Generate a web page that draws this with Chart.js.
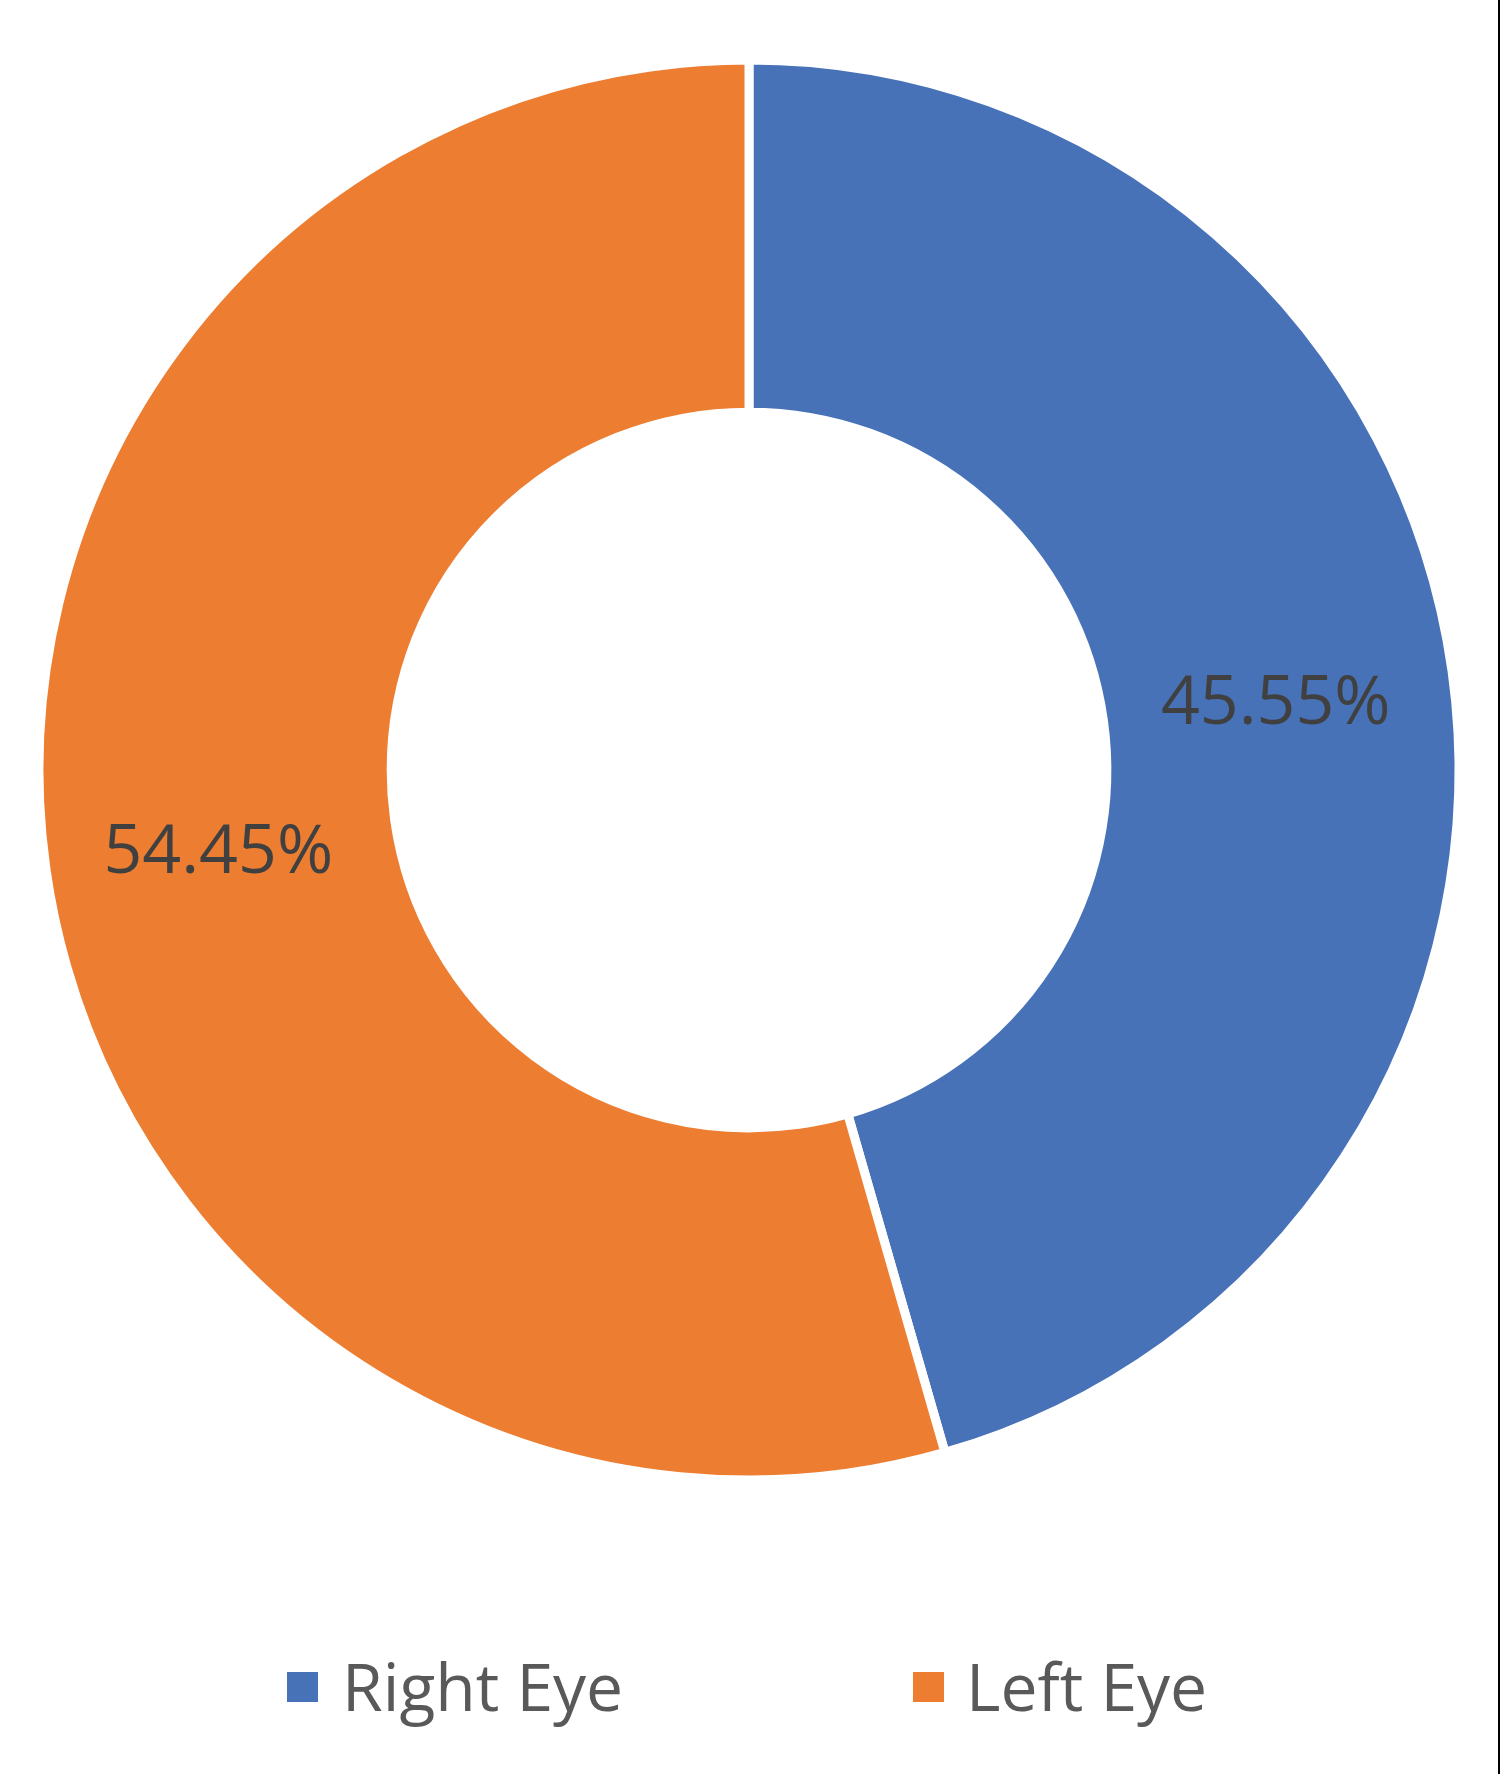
<!DOCTYPE html>
<html>
<head>
<meta charset="utf-8">
<script src="https://cdn.jsdelivr.net/npm/chart.js@4.4.1/dist/chart.umd.min.js"></script>
<style>
    body {
        margin: 0;
        background: #fff;
    }
    #wrap {
        position: relative;
        width: 1500px;
        height: 1774px;
        border-right: 2px solid #000;
        box-sizing: border-box;
        background: #fff;
    }
    #box {
        position: absolute;
        left: 0;
        top: 0;
        width: 1498px;
        height: 1774px;
    }
    .swatch {
        position: absolute;
        top: 1672px;
        width: 31px;
        height: 30px;
    }
    .txt {
        position: absolute;
        top: 1640px;
        font-family: "Open Sans", sans-serif;
        font-size: 66px;
        color: #595959;
        white-space: nowrap;
        line-height: normal;
    }
</style>
</head>
<body>
<div id="wrap">
    <div id="box"><canvas id="grafico"></canvas></div>
    <div id="legenda"></div>
</div>
<script>
const categorias = ['Right Eye', 'Left Eye'];
const valores = [45.55, 54.45];
const cores = ['#4872B8', '#ED7D31'];

// posições da legenda (caixa e texto)
const legendaX = [[287, 342], [913, 966]];

// rótulos de percentagem no meio de cada fatia
const rotulos = {
    id: 'rotulos',
    afterDatasetsDraw(chart) {
        const ctx = chart.ctx;
        const meta = chart.getDatasetMeta(0);
        ctx.save();
        ctx.font = '68px "Open Sans"';
        ctx.fillStyle = '#404040';
        ctx.textAlign = 'center';
        ctx.textBaseline = 'middle';
        meta.data.forEach((arco, i) => {
            const p = arco.tooltipPosition();
            ctx.fillText(valores[i].toFixed(2) + '%', p.x - 2, p.y + 9);
        });
        ctx.restore();
    }
};

const grafico = document.getElementById('grafico');

const chart = new Chart(grafico, {
    type: 'doughnut',
    data: {
        labels: categorias,
        datasets: [{
            data: valores,
            backgroundColor: cores,
            borderColor: '#ffffff',
            borderWidth: 9
        }]
    },
    options: {
        responsive: true,
        maintainAspectRatio: false,
        animation: false,
        radius: 710,
        cutout: '50.4%',
        layout: {
            padding: { top: 0, bottom: 234 }
        },
        plugins: {
            legend: { display: false },
            tooltip: { enabled: false }
        }
    },
    plugins: [rotulos]
});

// legenda em html a partir dos itens do gráfico
const legenda = document.getElementById('legenda');
chart.data.labels.forEach((nome, i) => {
    const sw = document.createElement('div');
    sw.className = 'swatch';
    sw.style.left = legendaX[i][0] + 'px';
    sw.style.background = chart.data.datasets[0].backgroundColor[i];
    const t = document.createElement('div');
    t.className = 'txt';
    t.style.left = legendaX[i][1] + 'px';
    t.textContent = nome;
    legenda.appendChild(sw);
    legenda.appendChild(t);
});
</script>
</body>
</html>
